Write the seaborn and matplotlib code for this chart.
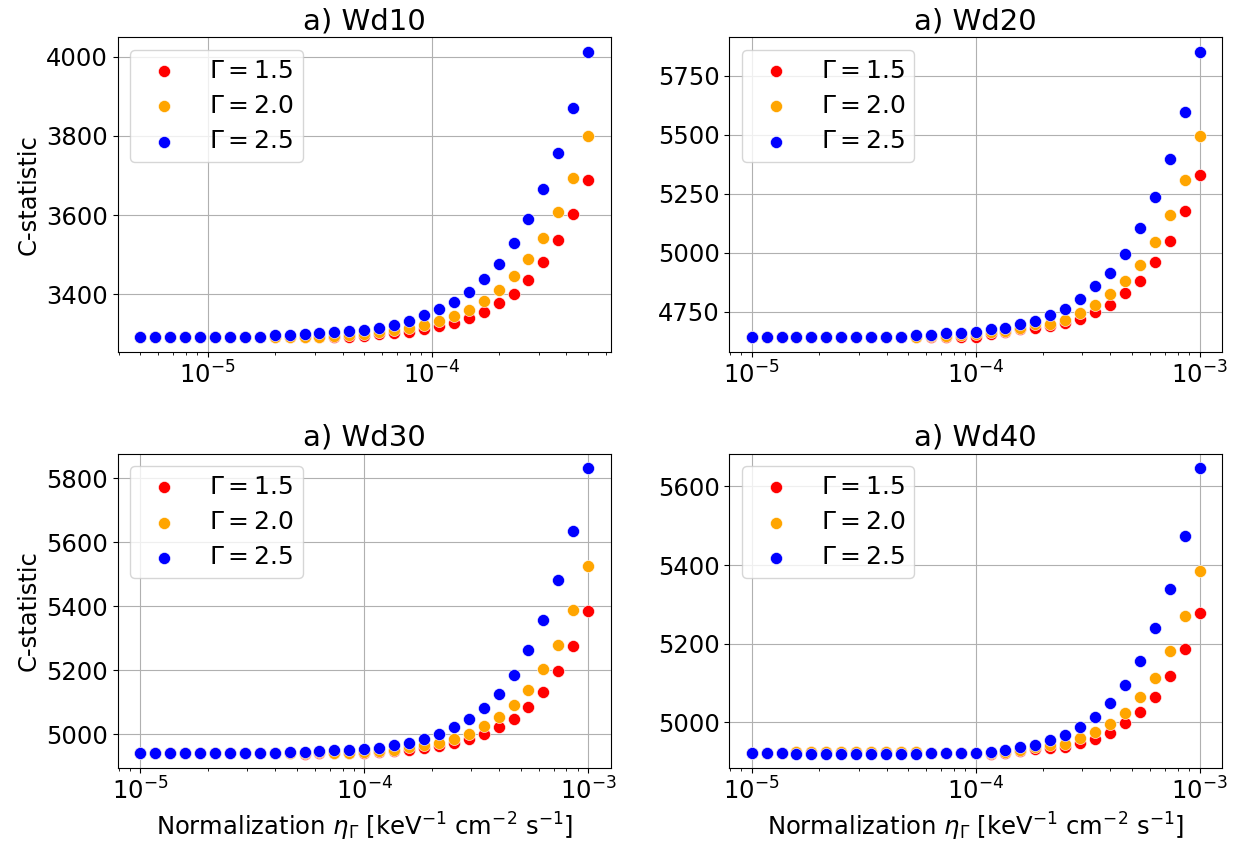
import matplotlib
matplotlib.use("Agg")
import matplotlib.pyplot as plt
import seaborn as sns
import pandas as pd

# ---------------- data ----------------
# normalization grid for Wd10 (5e-6 .. 5e-4)
norm_wd10 = [5.000e-6, 5.830e-6, 6.797e-6, 7.924e-6, 9.239e-6, 1.077e-5, 1.256e-5, 1.464e-5,
             1.707e-5, 1.991e-5, 2.321e-5, 2.706e-5, 3.155e-5, 3.678e-5, 4.289e-5, 5.000e-5,
             5.830e-5, 6.797e-5, 7.924e-5, 9.239e-5, 1.077e-4, 1.256e-4, 1.464e-4, 1.707e-4,
             1.991e-4, 2.321e-4, 2.706e-4, 3.155e-4, 3.678e-4, 4.289e-4, 5.000e-4]
# normalization grid for Wd20/30/40 (1e-5 .. 1e-3)
norm_wide = [1.000e-5, 1.166e-5, 1.359e-5, 1.585e-5, 1.848e-5, 2.154e-5, 2.512e-5, 2.929e-5,
             3.415e-5, 3.981e-5, 4.642e-5, 5.412e-5, 6.310e-5, 7.356e-5, 8.577e-5, 1.000e-4,
             1.166e-4, 1.359e-4, 1.585e-4, 1.848e-4, 2.154e-4, 2.512e-4, 2.929e-4, 3.415e-4,
             3.981e-4, 4.642e-4, 5.412e-4, 6.310e-4, 7.356e-4, 8.577e-4, 1.000e-3]

gamma_labels = [r"$\Gamma = 1.5$", r"$\Gamma = 2.0$", r"$\Gamma = 2.5$"]
gamma_colors = ["red", "orange", "blue"]
panel_titles = ["a) Wd10", "a) Wd20", "a) Wd30", "a) Wd40"]

wd10_g15 = [3292]*12 + [3291, 3292, 3293, 3295, 3299, 3301, 3305, 3312, 3320, 3328, 3339, 3356,
                        3378, 3402, 3435, 3481, 3536, 3603, 3690]
wd10_g20 = [3293]*9 + [3292, 3292, 3293, 3293, 3295, 3297, 3299, 3305, 3310, 3314, 3322, 3332,
                       3346, 3361, 3383, 3410, 3445, 3488, 3541, 3609, 3693, 3799]
wd10_g25 = [3293]*9 + [3297, 3297, 3299, 3301, 3304, 3307, 3310, 3316, 3323, 3333, 3347, 3362,
                       3381, 3406, 3439, 3477, 3529, 3590, 3665, 3757, 3870, 4013]

wd20_g15 = [4645]*11 + [4642, 4643, 4644, 4645, 4646, 4656, 4663, 4676, 4684, 4690, 4704, 4722,
                        4750, 4781, 4830, 4883, 4961, 5052, 5177, 5329]
wd20_g20 = [4645]*11 + [4643, 4649, 4650, 4652, 4656, 4663, 4669, 4684, 4697, 4701, 4718, 4747,
                        4781, 4824, 4879, 4949, 5048, 5160, 5308, 5494]
wd20_g25 = [4645]*11 + [4652, 4652, 4659, 4659, 4663, 4676, 4684, 4697, 4711, 4739, 4764, 4803,
                        4858, 4916, 4996, 5105, 5235, 5399, 5598, 5852]

wd30_g15 = [4941]*10 + [4940, 4939, 4940, 4941, 4941, 4940, 4945, 4946, 4950, 4956, 4964, 4974,
                        4984, 5000, 5021, 5049, 5085, 5132, 5198, 5275, 5384]
wd30_g20 = [4941]*10 + [4940, 4942, 4943, 4941, 4942, 4943, 4948, 4951, 4961, 4966, 4974, 4986,
                        5002, 5026, 5054, 5090, 5138, 5203, 5280, 5390, 5525]
wd30_g25 = [4941]*10 + [4945, 4945, 4946, 4950, 4950, 4953, 4958, 4966, 4974, 4984, 5002, 5023,
                        5047, 5081, 5125, 5185, 5262, 5356, 5481, 5637, 5833]

wd40_g15 = [4923]*3 + [4925]*9 + [4923, 4922, 4922, 4921, 4920, 4923, 4927, 4931, 4934, 4938,
                                  4947, 4957, 4972, 4998, 5025, 5065, 5118, 5186, 5277]
wd40_g20 = [4923]*3 + [4924]*9 + [4922, 4921, 4921, 4921, 4921, 4925, 4930, 4936, 4942, 4945,
                                  4959, 4976, 4995, 5023, 5063, 5112, 5181, 5270, 5385]
wd40_g25 = [4923]*3 + [4920]*9 + [4921, 4923, 4923, 4923, 4925, 4930, 4936, 4942, 4955, 4968,
                                  4987, 5014, 5048, 5095, 5157, 5239, 5340, 5473, 5647]

panels = [
    (norm_wd10, [wd10_g15, wd10_g20, wd10_g25]),
    (norm_wide, [wd20_g15, wd20_g20, wd20_g25]),
    (norm_wide, [wd30_g15, wd30_g20, wd30_g25]),
    (norm_wide, [wd40_g15, wd40_g20, wd40_g25]),
]

# ---------------- style ----------------
plt.rcParams["font.family"] = ["DejaVu Sans"]
plt.rcParams["font.size"] = 17.5
plt.rcParams["axes.titlesize"] = 21
plt.rcParams["axes.labelsize"] = 17.5
plt.rcParams["xtick.labelsize"] = 17.5
plt.rcParams["ytick.labelsize"] = 17.5
plt.rcParams["legend.fontsize"] = 18

fig, axes = plt.subplots(2, 2, figsize=(12.52, 8.49), dpi=100)
fig.subplots_adjust(left=0.0942, right=0.976, top=0.956, bottom=0.0954,
                    wspace=0.241, hspace=0.324)

for idx, (ax, (xs, series), title) in enumerate(zip(axes.flat, panels, panel_titles)):
    for ys, lab, col in zip(series, gamma_labels, gamma_colors):
        df = pd.DataFrame({"norm": xs, "cstat": ys})
        sns.scatterplot(data=df, x="norm", y="cstat", color=col, label=lab,
                        s=75, edgecolor="white", linewidth=0.4, ax=ax, zorder=3)
    ax.set_xscale("log")
    ax.grid(True, which="major", color="#b0b0b0", linewidth=0.8)
    ax.set_axisbelow(True)
    ax.set_title(title)
    ax.legend(loc="upper left", labelspacing=0.45, borderpad=0.35)
    if idx % 2 == 0:
        ax.set_ylabel("C-statistic")
    else:
        ax.set_ylabel("")
    if idx >= 2:
        ax.set_xlabel(r"Normalization $\eta_\Gamma$ [keV$^{-1}$ cm$^{-2}$ s$^{-1}$]")
    else:
        ax.set_xlabel("")

fig.savefig("out.png", dpi=100)
